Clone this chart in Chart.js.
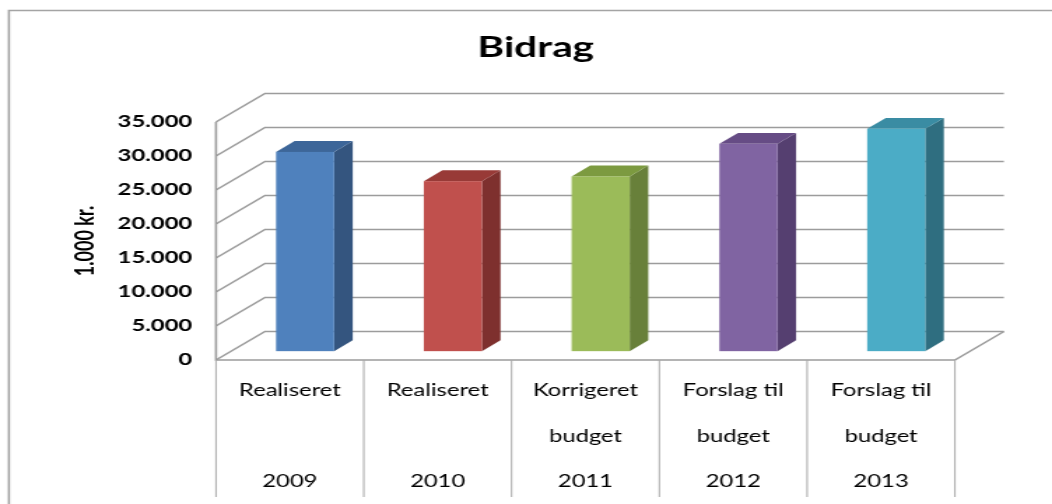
<!DOCTYPE html>
<html>
<head>
<meta charset="utf-8">
<title>Bidrag</title>
<script src="https://cdn.jsdelivr.net/npm/chart.js@4"></script>
<style>
  html, body { margin: 0; padding: 0; background: #fff; overflow: hidden; }
  /* the original picture is stretched sideways, so the canvas is too */
  #chart { width: 1052px !important; height: 504px !important; display: block; }
</style>
</head>
<body>
<canvas id="chart" width="752" height="504" style="width:1052px;height:504px"></canvas>
<script>
// data
const categoryLine1 = ['Realiseret', 'Realiseret', 'Korrigeret', 'Forslag til', 'Forslag til'];
const categoryLine2 = ['', '', 'budget', 'budget', 'budget'];
const years = ['2009', '2010', '2011', '2012', '2013'];
const bidrag = [29300, 25000, 25700, 30500, 32700];
const yMin = 0;
const yMax = 35000;
const yStep = 5000;

// colours (front, side, top)
const frontColors = ['#4F81BD', '#C0504D', '#9BBB59', '#8064A2', '#4BACC6'];
const sideColors = ['#34557F', '#7E302E', '#68803A', '#553F70', '#2F6E80'];
const topColors = ['#3D6699', '#983A37', '#7C9A40', '#664C85', '#3A8CA3'];

// depth of the 3d box (internal px)
const DX = 35;
const DY = 28.5;
const T0 = 0.31;
const T1 = 0.69;

const labels = years.map((yr, i) => [categoryLine1[i], categoryLine2[i], yr]);

const formatThousands = (v) => String(v).replace(/\B(?=(\d{3})+(?!\d))/g, '.');

const excel3d = {
    id: 'excel3d',
    beforeDraw(chart) {
        const ctx = chart.ctx;
        ctx.save();
        ctx.fillStyle = '#fff';
        ctx.fillRect(0, 0, chart.width, chart.height);
        // outer frame (left + top only)
        ctx.strokeStyle = '#a4a4a4';
        ctx.lineWidth = 1.6;
        ctx.beginPath();
        ctx.moveTo(6.4, chart.height);
        ctx.lineTo(6.4, 10.5);
        ctx.lineTo(chart.width, 10.5);
        ctx.stroke();
        ctx.restore();
    },
    beforeDatasetsDraw(chart) {
        const { ctx, chartArea: a, scales: { x, y } } = chart;
        ctx.save();

        // side wall + back wall gridlines
        ctx.strokeStyle = '#9c9c9c';
        ctx.lineWidth = 1.6;
        y.ticks.forEach(t => {
            const py = y.getPixelForValue(t.value);
            ctx.beginPath();
            ctx.moveTo(a.left, py);
            ctx.lineTo(a.left + DX, py - DY);
            ctx.lineTo(a.right + DX, py - DY);
            ctx.stroke();
        });
        const yTop = y.getPixelForValue(yMax);
        const yBot = y.getPixelForValue(yMin);
        ctx.beginPath();
        ctx.moveTo(a.left, yTop);
        ctx.lineTo(a.left, yBot);
        ctx.lineTo(a.right, yBot);
        ctx.lineTo(a.right + DX, yBot - DY);
        ctx.stroke();

        // category table below the floor
        ctx.strokeStyle = '#a8a8a8';
        ctx.lineWidth = 1;
        const n = labels.length;
        const half = (x.getPixelForValue(1) - x.getPixelForValue(0)) / 2;
        for (let i = 0; i <= n; i++) {
            const px = i < n ? x.getPixelForValue(i) - half : x.getPixelForValue(n - 1) + half;
            ctx.beginPath();
            ctx.moveTo(px, yBot);
            ctx.lineTo(px, 497);
            ctx.stroke();
        }

        // 3d bars
        const meta = chart.getDatasetMeta(0);
        const ox = T0 * DX, oy = T0 * DY;
        const ddx = (T1 - T0) * DX, ddy = (T1 - T0) * DY;
        meta.data.forEach((bar, i) => {
            const p = bar.getProps(['x', 'y', 'base', 'width'], true);
            const xl = p.x - p.width / 2 + ox;
            const xr = p.x + p.width / 2 + ox;
            const yt = p.y - oy;
            const yb = p.base - oy;

            ctx.fillStyle = sideColors[i];
            ctx.beginPath();
            ctx.moveTo(xr, yt);
            ctx.lineTo(xr + ddx, yt - ddy);
            ctx.lineTo(xr + ddx, yb - ddy);
            ctx.lineTo(xr, yb);
            ctx.closePath();
            ctx.fill();

            ctx.fillStyle = topColors[i];
            ctx.beginPath();
            ctx.moveTo(xl, yt);
            ctx.lineTo(xl + ddx, yt - ddy);
            ctx.lineTo(xr + ddx, yt - ddy);
            ctx.lineTo(xr, yt);
            ctx.closePath();
            ctx.fill();

            ctx.fillStyle = frontColors[i];
            ctx.fillRect(xl, yt, xr - xl, yb - yt);
        });

        ctx.restore();
        return false;
    }
};

new Chart(document.getElementById('chart'), {
    type: 'bar',
    data: {
        labels: labels,
        datasets: [{
            label: 'Bidrag',
            data: bidrag,
            backgroundColor: frontColors,
            barPercentage: 0.393,
            categoryPercentage: 1
        }]
    },
    options: {
        responsive: false,
        animation: false,
        devicePixelRatio: 1,
        layout: { padding: { left: 14, right: 0, top: 0, bottom: 0 } },
        plugins: {
            legend: { display: false },
            tooltip: { enabled: false },
            title: {
                display: true,
                text: 'Bidrag',
                color: '#000',
                font: { family: 'Lato', size: 29, weight: 'bold' },
                padding: { top: 30, bottom: 57.2 }
            }
        },
        scales: {
            x: {
                grid: { display: false },
                border: { display: false },
                ticks: {
                    color: '#000',
                    maxRotation: 0,
                    autoSkip: false,
                    padding: 0,
                    font: { family: 'Lato', size: 17, lineHeight: '45.5px' }
                },
                afterFit(scale) { scale.height = 144; }
            },
            y: {
                min: yMin,
                max: yMax,
                grid: { display: false },
                border: { display: false },
                ticks: {
                    stepSize: yStep,
                    color: '#000',
                    padding: 9,
                    font: { family: 'Lato', size: 17, weight: 'bold' },
                    callback: (v) => formatThousands(v)
                },
                title: {
                    display: true,
                    text: '1.000 kr.',
                    color: '#000',
                    font: { family: 'Lato', size: 18, weight: 'bold' },
                    padding: { top: 36, bottom: 0 }
                },
                afterFit(scale) { scale.width = 140.4; }
            },
            yRight: {
                type: 'linear',
                position: 'right',
                display: true,
                grid: { display: false },
                border: { display: false },
                ticks: { display: false },
                afterFit(scale) { scale.width = 69.4; }
            }
        }
    },
    plugins: [excel3d]
});
</script>
</body>
</html>
